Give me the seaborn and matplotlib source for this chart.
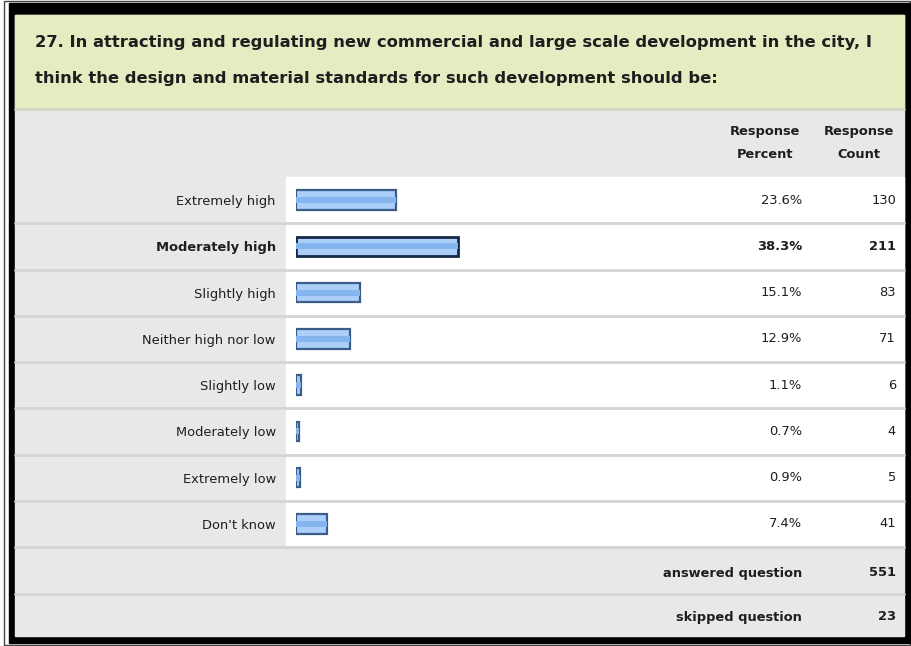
import matplotlib
matplotlib.use("Agg")
import matplotlib.pyplot as plt
import seaborn as sns
import pandas as pd
from matplotlib.patches import Rectangle

sns.set_theme(style="white")
plt.rcParams['font.family'] = ['DejaVu Sans']

title_lines = ["27. In attracting and regulating new commercial and large scale development in the city, I",
               "think the design and material standards for such development should be:"]
categories = ["Extremely high", "Moderately high", "Slightly high", "Neither high nor low",
              "Slightly low", "Moderately low", "Extremely low", "Don't know"]
percents = [23.6, 38.3, 15.1, 12.9, 1.1, 0.7, 0.9, 7.4]
counts = [130, 211, 83, 71, 6, 4, 5, 41]
answered = 551
skipped = 23
header_percent = ["Response", "Percent"]
header_count = ["Response", "Count"]

W, H = 912, 646
fig = plt.figure(figsize=(W / 100, H / 100), dpi=100)

bg = fig.add_axes([0, 0, 1, 1])
bg.set_xlim(0, W)
bg.set_ylim(H, 0)
bg.axis("off")

def rect(x0, y0, x1, y1, **kw):
    bg.add_patch(Rectangle((x0, y0), x1 - x0, y1 - y0, **kw))

TXT = "#1e1e1e"
FS = 9.4

rect(0, 0, W, H, color="white", zorder=0)
rect(4, 1, 910, 645, fill=False, ec="#444444", lw=1, zorder=1)
rect(9, 3, 912, 643, color="black", zorder=1)
rect(15, 15, 904, 636, color="#e8e8e8", zorder=2)
rect(15, 15, 904, 108, color="#e6ebc2", zorder=3)
bg.plot([15, 904], [109, 109], color="#d2d4c4", lw=2, zorder=4)

n = len(categories)
row_top, row_h = 177, 46.25
for i in range(n):
    y0 = row_top + i * row_h
    rect(286, y0, 904, y0 + row_h, color="white", zorder=3)
    bg.plot([15, 904], [y0 + row_h, y0 + row_h], color="#d4d4d4", lw=2, zorder=4)
bg.plot([15, 904], [594, 594], color="#d4d4d4", lw=2, zorder=4)

for k, line in enumerate(title_lines):
    bg.text(35, 42 + 36 * k, line, fontsize=11.75, fontweight="bold", color=TXT,
            va="center", ha="left", zorder=5)
for k in range(2):
    yy = 132 + 23 * k
    bg.text(765, yy, header_percent[k], fontsize=FS, fontweight="bold", color=TXT,
            ha="center", va="center", zorder=5)
    bg.text(859, yy, header_count[k], fontsize=FS, fontweight="bold", color=TXT,
            ha="center", va="center", zorder=5)

for i in range(n):
    yc = row_top + (i + 0.5) * row_h
    fw = "bold" if i == 1 else "normal"
    bg.text(802, yc, f"{percents[i]:.1f}%", fontsize=FS, fontweight=fw, color=TXT,
            ha="right", va="center", zorder=5)
    bg.text(896, yc, f"{counts[i]}", fontsize=FS, fontweight=fw, color=TXT,
            ha="right", va="center", zorder=5)

for yy, lab, val in [(573, "answered question", answered), (617, "skipped question", skipped)]:
    bg.text(802, yy, lab, fontsize=FS, fontweight="bold", color=TXT,
            ha="right", va="center", zorder=5)
    bg.text(896, yy, f"{val}", fontsize=FS, fontweight="bold", color=TXT,
            ha="right", va="center", zorder=5)

# bar axes
ax_x0, ax_x1 = 296, 700
ax_y0, ax_y1 = row_top, row_top + n * row_h
ax = fig.add_axes([ax_x0 / W, 1 - ax_y1 / H, (ax_x1 - ax_x0) / W, (ax_y1 - ax_y0) / H])
ax.patch.set_alpha(0)
df = pd.DataFrame({"category": categories, "percent": percents})
sns.barplot(data=df, x="percent", y="category", orient="h", ax=ax,
            color="#abcff8", edgecolor="#3a5c88", linewidth=1.6, width=0.42, saturation=1)
sns.barplot(data=df, x="percent", y="category", orient="h", ax=ax,
            color="#85b5ef", edgecolor="none", linewidth=0, width=0.13, saturation=1)
for j, p in enumerate(ax.patches[:n]):
    if j == 1:
        p.set_edgecolor("#142a48")
        p.set_linewidth(2)
ax.set_xlim(0, (ax_x1 - ax_x0) / 4.22)
ax.set_ylim(n - 0.5, -0.5)
ax.set_xlabel("")
ax.set_ylabel("")
ax.set_xticks([])
for s in ax.spines.values():
    s.set_visible(False)
ax.tick_params(axis="y", length=0, pad=14.5, labelsize=FS, labelcolor=TXT)
for j, lab in enumerate(ax.get_yticklabels()):
    if j == 1:
        lab.set_fontweight("bold")

fig.savefig("out.png", dpi=100)
